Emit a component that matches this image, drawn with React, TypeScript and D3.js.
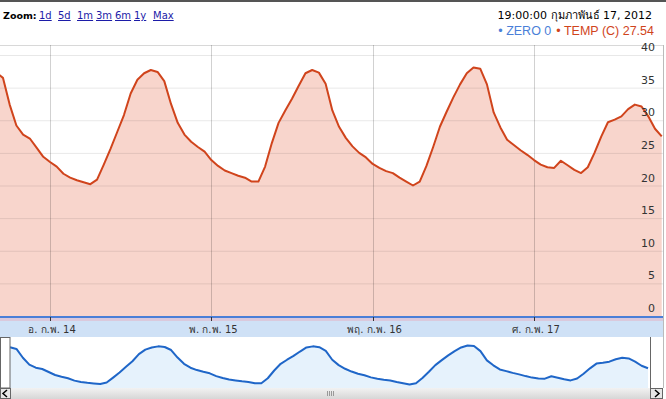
import React from 'react';
import * as d3 from 'd3';

// hourly readings, from 13 Feb 2012 16:00 to 17 Feb 2012 19:00
const startTime = new Date(2012, 1, 13, 16);
const tempValues = [
  37.3, 36.5, 32.4, 29.2, 27.8, 27.2, 25.8, 24.4,
  23.6, 22.9, 21.8, 21.2, 20.8, 20.5, 20.2, 20.9, 23.2, 25.6, 28.2, 30.8,
  34.1, 36.2, 37.2, 37.7, 37.4, 36.0, 32.5, 29.6, 27.8, 26.7, 25.9, 25.2,
  23.9, 23.0, 22.3, 21.9, 21.5, 21.2, 20.6, 20.6, 22.9, 26.5, 29.6, 31.5,
  33.3, 35.3, 37.2, 37.7, 37.3, 35.6, 31.5, 29.0, 27.3, 26.0, 25.0, 24.3,
  23.3, 22.7, 22.2, 21.9, 21.2, 20.6, 20.0, 20.6, 23.0, 25.9, 29.0, 31.3,
  33.5, 35.5, 37.2, 38.1, 37.9, 35.5, 31.2, 28.9, 27.0, 26.2, 25.4, 24.7,
  23.9, 23.2, 22.8, 22.7, 23.8, 23.1, 22.4, 21.9, 22.8, 25.0, 27.5, 29.7,
  30.1, 30.6, 31.7, 32.4, 32.1, 30.6, 28.7, 27.54,
];
const zeroLevel = 0;
const yTicks = [0, 5, 10, 15, 20, 25, 30, 35, 40];
const dayTicks = [new Date(2012, 1, 14), new Date(2012, 1, 15), new Date(2012, 1, 16), new Date(2012, 1, 17)];
const dayLabels = ['อ. ก.พ. 14', 'พ. ก.พ. 15', 'พฤ. ก.พ. 16', 'ศ. ก.พ. 17'];
const zoomButtons = ['1d', '5d', '1m', '3m', '6m', '1y', 'Max'];

const W = 666;
const H = 399;

export default function App() {
  const data = tempValues.map((v, i) => ({ t: new Date(startTime.getTime() + i * 3600000), v }));

  const x = d3.scaleTime().domain([dayTicks[0], dayTicks[3]]).range([50, 534]);
  const y = d3.scaleLinear().domain([0, 40]).range([316, 55]);

  const area = d3.area<any>().x(d => x(d.t)).y0(y(0)).y1(d => y(d.v));
  const line = d3.line<any>().x(d => x(d.t)).y(d => y(d.v));

  const nx = d3.scaleTime().domain(d3.extent(data, d => d.t) as [Date, Date]).range([10, 648]);
  const ny = d3.scaleLinear().domain(d3.extent(data, d => d.v) as [number, number]).range([384.5, 345.5]);
  const navArea = d3.area<any>().x(d => nx(d.t)).y0(388).y1(d => ny(d.v));
  const navLine = d3.line<any>().x(d => nx(d.t)).y(d => ny(d.v));

  const font = 'Verdana, "DejaVu Sans", sans-serif';

  return (
    <svg width={W} height={H} style={{ position: 'absolute', left: 0, top: 0, background: '#fff' }}>
      <defs>
        <clipPath id="plot"><rect x={0} y={45} width={663} height={272} /></clipPath>
        <linearGradient id="scroll" x1="0" y1="0" x2="0" y2="1">
          <stop offset="0" stopColor="#f2f2f2" />
          <stop offset="1" stopColor="#d6d6d6" />
        </linearGradient>
      </defs>
      <rect x={0} y={0} width={W} height={2} fill="#555" />

      {/* header */}
      <text x={3} y={19} fontFamily={font} fontSize={9.5} fontWeight="bold" fill="#000">Zoom:</text>
      {zoomButtons.map((b, i) => (
        <text key={b} x={39 + i * 19} y={19} fontFamily={font} fontSize={10} fill="#1c1ca8" textDecoration="underline">{b}</text>
      ))}
      <text x={652} y={19} textAnchor="end" fontFamily={font} fontSize={11} fill="#000">19:00:00 กุมภาพันธ์ 17, 2012</text>
      <text x={654} y={35} textAnchor="end" fontFamily='"Liberation Sans", Arial, sans-serif' fontSize={12.5}>
        <tspan fill="#4a7fd8">• ZERO {zeroLevel}</tspan>
        <tspan fill="#d0441c" dx={5}>• TEMP (C) {tempValues[tempValues.length - 1]}</tspan>
      </text>

      {/* plot */}
      <line x1={0} x2={663} y1={45.5} y2={45.5} stroke="#d8d8d8" />
      <g clipPath="url(#plot)">
        <path d={area(data) || ''} fill="#f8d5cc" />
        {yTicks.map(t => (
          <line key={t} x1={0} x2={663} y1={y(t) + 0.5} y2={y(t) + 0.5} stroke="#000" strokeOpacity={0.09} />
        ))}
        {dayTicks.map((d, i) => (
          <line key={i} x1={Math.round(x(d)) + 0.5} x2={Math.round(x(d)) + 0.5} y1={45} y2={317} stroke="#000" strokeOpacity={0.18} />
        ))}
        <path d={line(data) || ''} fill="none" stroke="#d0441c" strokeWidth={2} strokeLinejoin="round" />
      </g>
      <line x1={663.5} x2={663.5} y1={45} y2={388} stroke="#bbb" />
      {yTicks.map(t => (
        <text key={t} x={655} y={y(t) - 4} textAnchor="end" fontFamily={font} fontSize={11} fill="#333">{t}</text>
      ))}

      {/* x axis band */}
      <rect x={0} y={318} width={663} height={3} fill="#dac9dc" />
      <rect x={0} y={321} width={663} height={16} fill="#cfe1f6" />
      <line x1={0} x2={663} y1={y(zeroLevel) + 1} y2={y(zeroLevel) + 1} stroke="#4a7fd8" strokeWidth={2} />
      {dayTicks.map((d, i) => (
        <g key={i}>
          <line x1={Math.round(x(d)) + 0.5} x2={Math.round(x(d)) + 0.5} y1={317} y2={321} stroke="#333" />
          <text x={x(d) + 2} y={333} textAnchor="middle" fontFamily={font} fontSize={10} fill="#333">{dayLabels[i]}</text>
        </g>
      ))}

      {/* navigator */}
      <rect x={10} y={337} width={640} height={51} fill="#fff" />
      <path d={navArea(data) || ''} fill="#e6f2fc" />
      <path d={navLine(data) || ''} fill="none" stroke="#1f66c8" strokeWidth={2} strokeLinejoin="round" />
      <rect x={0.5} y={337.5} width={9.5} height={50.5} fill="#fff" stroke="#666" />
      <line x1={650.5} x2={650.5} y1={337} y2={388} stroke="#666" />

      {/* scrollbar */}
      <rect x={0} y={388} width={663} height={11} fill="url(#scroll)" />
      <rect x={0.5} y={388.5} width={10} height={10} fill="#e8e8e8" stroke="#666" />
      <path d="M7,390 L3,393.5 L7,397" fill="none" stroke="#000" strokeWidth={1.5} />
      <rect x={650.5} y={388.5} width={12} height={10} fill="#e8e8e8" stroke="#666" />
      <path d="M655,390 L659,393.5 L655,397" fill="none" stroke="#000" strokeWidth={1.5} />
      {[0, 1, 2, 3].map(i => (
        <line key={i} x1={327.5 + i * 2} x2={327.5 + i * 2} y1={391} y2={396} stroke="#999" />
      ))}
    </svg>
  );
}
